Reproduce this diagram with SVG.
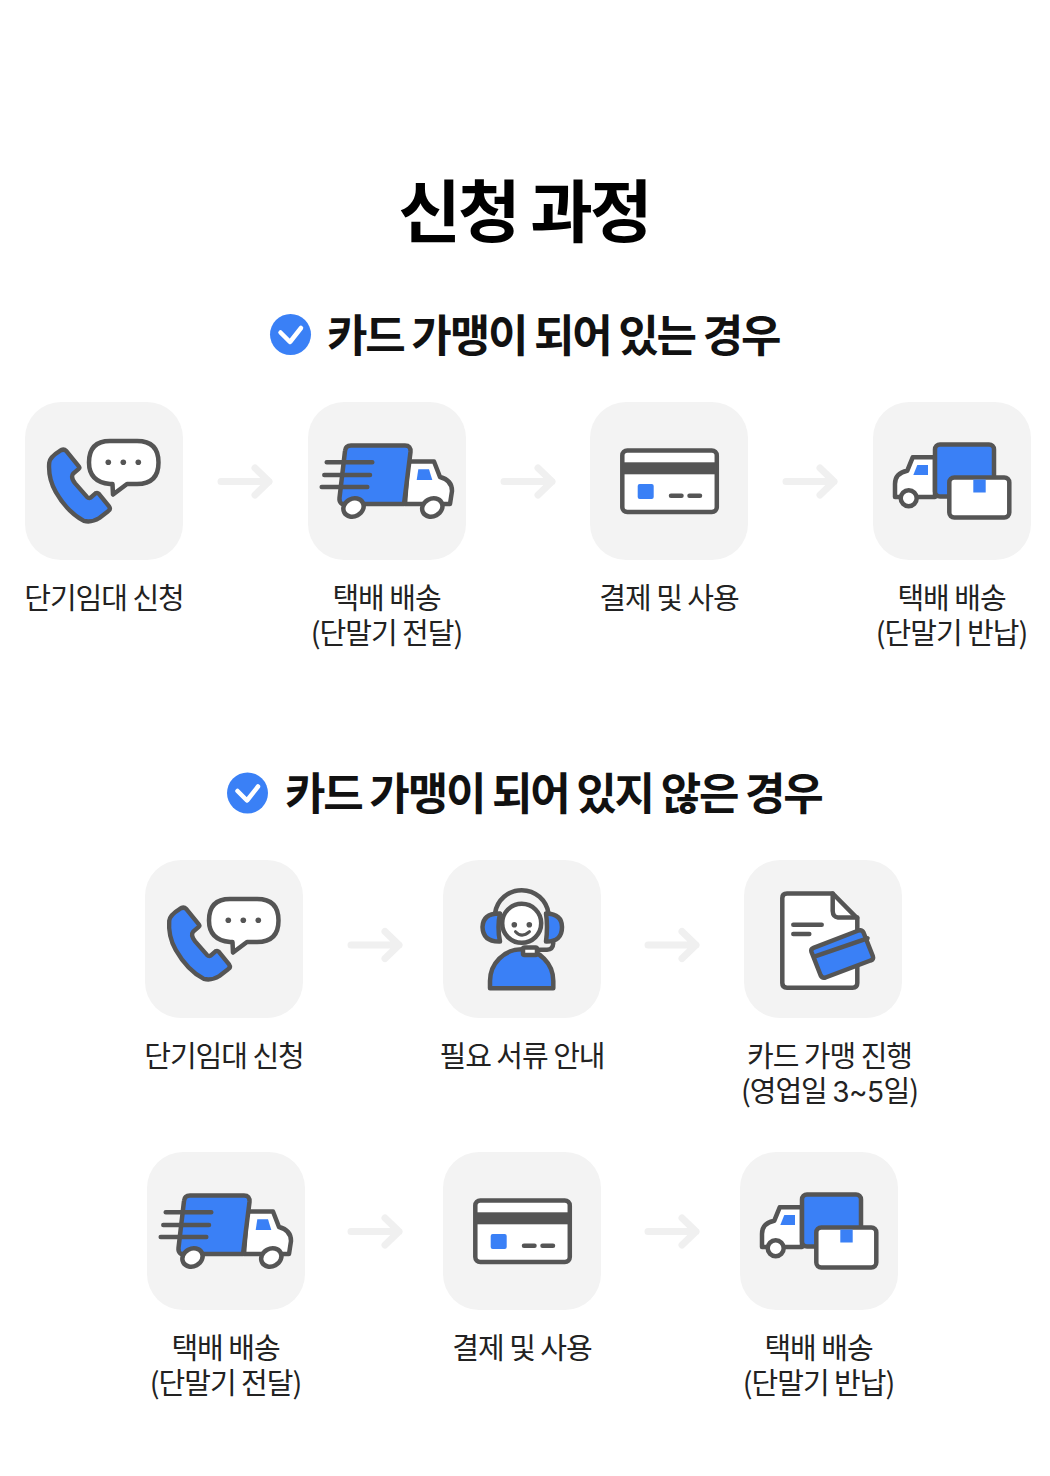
<svg xmlns="http://www.w3.org/2000/svg" xmlns:xlink="http://www.w3.org/1999/xlink" width="1050" height="1476" viewBox="0 0 1050 1476">
<style>
text{font-family:"Noto Sans CJK KR","Noto Sans",sans-serif;fill:#111;text-anchor:middle}
.title{font-size:68px;font-weight:700;letter-spacing:-2.8px;fill:#000}
.head{font-size:44px;font-weight:700;letter-spacing:-2.2px;fill:#111;text-anchor:start}
.lab{font-size:29px;font-weight:400;letter-spacing:-1px;fill:#222}
.num{font-family:"Inter","Noto Sans",sans-serif;font-size:28px;letter-spacing:-.5px}
.tile{fill:#f3f3f3}
.s{stroke:#555;stroke-width:4.5;stroke-linejoin:round;stroke-linecap:round}
.w{fill:#fff}.b{fill:#3a80f6}.n{fill:none}.d{fill:#555}
.bn{fill:#3a80f6}
.arrow{fill:none;stroke:#f0f0f0;stroke-width:7;stroke-linecap:round;stroke-linejoin:round}
.chk{fill:none;stroke:#fff;stroke-width:4.5;stroke-linecap:round;stroke-linejoin:round}
</style>
<defs>
<symbol id="phone" viewBox="0 0 158 158" width="158" height="158" overflow="visible">
<rect class="tile" width="158" height="158" rx="36"/>
<path class="s b" transform="translate(54 84) scale(.97) translate(-54 -84)" d="M34 48Q38 45 41 48L54 64Q55 65.500 54 66L48 71.300Q45 75 50 81.300L62 95Q64 97 66 96L71 91.500Q73 90.500 74.500 92L85 105Q87 108 84 110L75 117Q67 122 59 120Q42 111 30 90Q22 76 23.300 60Q24 54 34 48Z"/>
<path class="s w" d="M85 39H112Q133.500 39 133.500 60.500Q133.500 82 112 82H102L88 92.500L87.500 82H85Q64 80 64 60.500Q64 39 85 39Z"/>
<circle class="d" cx="83.300" cy="60.300" r="2.800"/><circle class="d" cx="98.300" cy="60.300" r="2.800"/><circle class="d" cx="113.300" cy="60.300" r="2.800"/>
</symbol>
<symbol id="truck" viewBox="0 0 158 158" width="158" height="158" overflow="visible">
<path class="s w" d="M100 59.500H126L132 75Q144 78 144 89L142 102H97Z"/>
<path class="b" d="M110.300 67.300H121L124.300 78H108.700Z"/>
<path class="s b" d="M37 49Q37.500 43.500 43 43.500H97Q103 43.500 102.500 50L96 102H34Q31 100 31.500 96Z"/>
<path class="s n" d="M18.700 60.300H64.300M16.300 73H62M13.700 85H59.300"/>
<ellipse class="s w" cx="45.500" cy="105.500" rx="10.500" ry="8.800" transform="rotate(-28 45.500 105.500)"/>
<ellipse class="s w" cx="124.300" cy="105.500" rx="10.500" ry="8.800" transform="rotate(-28 124.300 105.500)"/>
</symbol>
<symbol id="card" viewBox="0 0 158 158" width="158" height="158" overflow="visible">
<rect class="s w" x="32.300" y="48.500" width="94.500" height="61.500" rx="5"/>
<rect class="d" x="32.300" y="60.300" width="94.500" height="12"/>
<rect class="b" x="47.700" y="82" width="16" height="15" rx="2"/>
<path class="s n" d="M81 93.700H91.500M99.500 93.700H110"/>
</symbol>
<symbol id="parcel" viewBox="0 0 158 158" width="158" height="158" overflow="visible">
<path class="s w" d="M62 55.300H39.700L34.300 68.700Q22 71 22 82V95H62Z"/>
<path class="b" d="M44.300 63H55V73H40.300Z"/>
<rect class="s b" x="62" y="42.500" width="59" height="52" rx="5"/>
<circle class="s w" cx="35.700" cy="96.300" r="8"/>
<rect class="s w" x="76.300" y="75.500" width="60" height="40" rx="5"/>
<rect class="b" x="100.300" y="77.500" width="12.400" height="13"/>
</symbol>
<symbol id="agent" viewBox="0 0 158 158" width="158" height="158" overflow="visible">
<path class="s n" d="M52 53.500A27 27 0 0 1 105.500 53.500"/>
<path class="s b" d="M47 128.300V121A31.500 31.500 0 0 1 110.300 121V128.300Z"/>
<circle class="s w" cx="78.700" cy="63.300" r="19.500"/>
<path class="s b" d="M57 53.500Q40 53 39.500 67Q40 82 57 81.500Q54 67 57 53.500Z"/>
<path class="s b" d="M103 53.500Q119 54 119 67Q119 82 103 81.500Q105 67 103 53.500Z"/>
<circle class="d" cx="71.300" cy="64.700" r="2.800"/><circle class="d" cx="86.300" cy="64.700" r="2.800"/>
<path class="s n" d="M72.500 71.700Q78.700 78.500 86.500 71.700" style="stroke-width:3"/>
<path class="s n" d="M110.300 83Q110 89.500 104 89.800H94"/>
<rect class="s w" x="80" y="87.500" width="14" height="7.500" rx="1.500"/>
</symbol>
<symbol id="doc" viewBox="0 0 158 158" width="158" height="158" overflow="visible">
<path class="s w" d="M43 33.500H88.700L113.300 58.300V123Q113.300 127.700 108.500 127.700H43Q38.300 127.700 38.300 123V38Q38.300 33.500 43 33.500Z"/>
<path class="s n" d="M88.700 33.500V51Q89 57 94 57.500H113.300"/>
<path class="s n" d="M49.300 64.700H77.700M49.300 74H65.300"/>
<path class="s b" d="M69.500 87.800L114.500 70.500Q118 69.500 119.500 72.500L128.800 96Q130 99.500 126.500 100.500L81.500 117.500Q78 118.500 76.500 115L67.500 92Q66.500 89 69.500 87.800Z"/>
<path class="s n" d="M70.300 96.700L123.500 78.300"/>
</symbol>
</defs>

<text class="title" x="524" y="237">신청 과정</text>

<g id="check-1"><circle class="bn" cx="290.500" cy="334.500" r="20.500"/><path class="chk" d="M280.500 332.500L290 342L301 328"/></g>
<text class="head" x="327" y="352">카드 가맹이 되어 있는 경우</text>

<g id="check-2"><circle class="bn" cx="247.500" cy="793" r="20.500"/><path class="chk" d="M237.500 791L247 800.500L258 786.500"/></g>
<text class="head" x="285" y="810">카드 가맹이 되어 있지 않은 경우</text>

<g id="connectors">
<path class="arrow" d="M221 481.500H269M255 468L269 481.500L255 495"/>
<path class="arrow" d="M504 481.500H552M538 468L552 481.500L538 495"/>
<path class="arrow" d="M786 481.500H834M820 468L834 481.500L820 495"/>
<path class="arrow" d="M351 945H399M385 931.500L399 945L385 958.500"/>
<path class="arrow" d="M648 945H696M682 931.500L696 945L682 958.500"/>
<path class="arrow" d="M351 1231.500H399M385 1218L399 1231.500L385 1245"/>
<path class="arrow" d="M648 1231.500H696M682 1218L696 1231.500L682 1245"/>
</g>

<g id="n1"><use href="#phone" x="25" y="402"/><text class="lab" x="104" y="609">단기임대 신청</text></g>
<g id="n2"><rect class="tile" x="308" y="402" width="158" height="158" rx="36"/><use href="#truck" x="308" y="402"/><text class="lab" x="386.500" y="609">택배 배송</text><text class="lab" x="386.500" y="644">(단말기 전달)</text></g>
<g id="n3"><rect class="tile" x="590" y="402" width="158" height="158" rx="36"/><use href="#card" x="590" y="402"/><text class="lab" x="669" y="609">결제 및 사용</text></g>
<g id="n4"><rect class="tile" x="873" y="402" width="158" height="158" rx="36"/><use href="#parcel" x="873" y="402"/><text class="lab" x="951.500" y="609">택배 배송</text><text class="lab" x="951.500" y="644">(단말기 반납)</text></g>

<g id="n5"><use href="#phone" x="145" y="860"/><text class="lab" x="224" y="1067">단기임대 신청</text></g>
<g id="n6"><rect class="tile" x="443" y="860" width="158" height="158" rx="36"/><use href="#agent" x="443" y="860"/><text class="lab" x="522" y="1067">필요 서류 안내</text></g>
<g id="n7"><rect class="tile" x="744" y="860" width="158" height="158" rx="36"/><use href="#doc" x="744" y="860"/><text class="lab" x="829.500" y="1067">카드 가맹 진행</text><text class="lab" x="829.500" y="1102">(영업일 <tspan class="num">3~5</tspan>일)</text></g>

<g id="n8"><rect class="tile" x="147" y="1152" width="158" height="158" rx="36"/><use href="#truck" x="147" y="1152"/><text class="lab" x="225.500" y="1359">택배 배송</text><text class="lab" x="225.500" y="1394">(단말기 전달)</text></g>
<g id="n9"><rect class="tile" x="443" y="1152" width="158" height="158" rx="36"/><use href="#card" x="443" y="1152"/><text class="lab" x="522" y="1359">결제 및 사용</text></g>
<g id="n10"><rect class="tile" x="740" y="1152" width="158" height="158" rx="36"/><use href="#parcel" x="740" y="1152"/><text class="lab" x="818.500" y="1359">택배 배송</text><text class="lab" x="818.500" y="1394">(단말기 반납)</text></g>
</svg>
